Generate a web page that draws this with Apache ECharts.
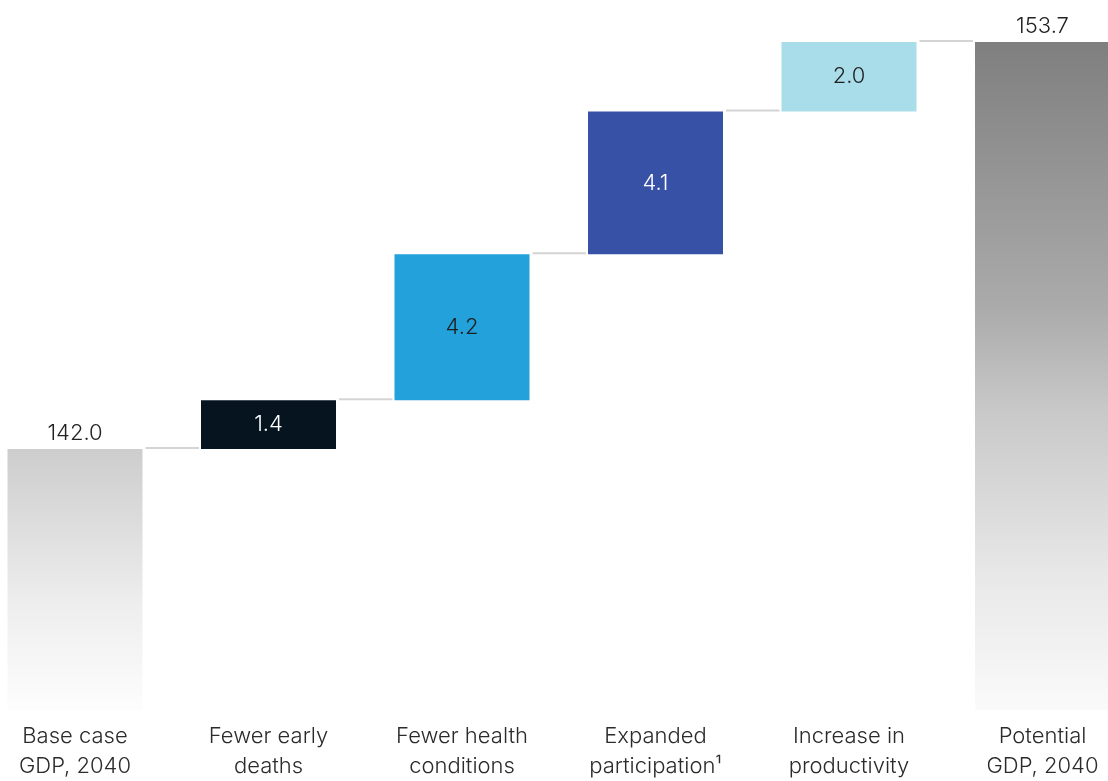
<!DOCTYPE html>
<html>
<head>
<meta charset="utf-8">
<style>
  html, body { margin: 0; padding: 0; background: #ffffff; }
  #chart { width: 1108px; height: 781px; }
</style>
<script src="https://cdn.jsdelivr.net/npm/echarts@6/dist/echarts.min.js"></script>
</head>
<body>
<div id="chart"></div>
<script>
// GDP bridge, 2040 ($ trillion): base case, four drivers, potential
const categories = [
  'Base case\nGDP, 2040',
  'Fewer early\ndeaths',
  'Fewer health\nconditions',
  'Expanded\nparticipation\u00b9',
  'Increase in\nproductivity',
  'Potential\nGDP, 2040'
];
const baseTotal = 142.0;
const steps = [1.4, 4.2, 4.1, 2.0];
const potentialTotal = 153.7;

const stepColors = ['#06141f', '#22a1da', '#3751a6', '#a9dde9'];
const stepLabelColors = ['#ffffff', '#1f1f1f', '#ffffff', '#1f1f1f'];

const FONT = 'Inter, "Liberation Sans", sans-serif';
const WEIGHT = 300;
const SIZE = 22;

// running level before each category (invisible offset of floating bars)
const levels = [baseTotal];
steps.forEach((s, i) => levels.push(+(levels[i] + s).toFixed(1)));

const offsetData = categories.map((c, i) =>
  (i === 0 || i === categories.length - 1) ? '-' : levels[i - 1]);

const floatData = categories.map((c, i) => {
  if (i === 0 || i === categories.length - 1) return '-';
  const k = i - 1;
  return {
    value: steps[k],
    itemStyle: { color: stepColors[k] },
    label: { color: stepLabelColors[k] }
  };
});

const totalData = categories.map((c, i) => {
  if (i === 0) {
    return {
      value: baseTotal,
      itemStyle: {
        color: new echarts.graphic.LinearGradient(0, 0, 0, 1, [
          { offset: 0, color: '#cccdcc' },
          { offset: 0.6, color: '#eeeeee' },
          { offset: 1, color: '#fdfdfd' }
        ])
      }
    };
  }
  if (i === categories.length - 1) {
    return {
      value: potentialTotal,
      itemStyle: {
        color: new echarts.graphic.LinearGradient(0, 0, 0, 1, [
          { offset: 0, color: '#7f7f7f' },
          { offset: 0.4, color: '#ababab' },
          { offset: 0.55, color: '#c8c8c8' },
          { offset: 0.8, color: '#e8e8e8' },
          { offset: 1, color: '#fafafa' }
        ])
      }
    };
  }
  return '-';
});

// connector lines: from each bar's right edge to the next bar's left edge
const connectorData = [];
for (let i = 0; i < categories.length - 1; i++) {
  connectorData.push([i, i === categories.length - 2 ? potentialTotal : levels[i]]);
}

const BAR_W = 135;

const chart = echarts.init(document.getElementById('chart'), null, { renderer: 'canvas' });
chart.setOption({
  animation: false,
  backgroundColor: '#ffffff',
  grid: {
    left: -21.75, top: 31.6, width: 1161, height: 678.4,
    containLabel: false,
    outerBoundsMode: 'none'
  },
  xAxis: {
    type: 'category',
    data: categories,
    axisLine: { show: false },
    axisTick: { show: false },
    axisLabel: {
      interval: 0,
      margin: 11,
      color: '#2b2b2b',
      fontFamily: FONT,
      fontWeight: WEIGHT,
      fontSize: SIZE,
      lineHeight: 30
    }
  },
  yAxis: {
    type: 'value',
    min: 134.5,
    max: 154,
    show: false,
    splitLine: { show: false }
  },
  series: [
    {
      type: 'bar',
      stack: 'w',
      barWidth: BAR_W,
      silent: true,
      itemStyle: { color: 'rgba(0,0,0,0)' },
      data: offsetData
    },
    {
      type: 'bar',
      stack: 'w',
      barWidth: BAR_W,
      label: {
        show: true,
        position: 'inside',
        fontFamily: FONT,
        fontWeight: WEIGHT,
        fontSize: SIZE,
        formatter: p => p.value.toFixed(1)
      },
      data: floatData
    },
    {
      type: 'bar',
      stack: 'w',
      barWidth: BAR_W,
      label: {
        show: true,
        position: 'top',
        distance: 5,
        color: '#222222',
        fontFamily: FONT,
        fontWeight: WEIGHT,
        fontSize: SIZE,
        formatter: p => p.value.toFixed(1)
      },
      data: totalData
    },
    {
      type: 'custom',
      silent: true,
      z: 1,
      renderItem: function (params, api) {
        const i = api.value(0);
        const y = api.value(1);
        const a = api.coord([i, y]);
        const b = api.coord([i + 1, y]);
        return {
          type: 'line',
          shape: { x1: a[0] + BAR_W / 2 + 3, y1: a[1] - 1, x2: b[0] - BAR_W / 2 - 2, y2: b[1] - 1 },
          style: { stroke: '#d4d4d4', lineWidth: 2 }
        };
      },
      data: connectorData
    }
  ]
});
</script>
</body>
</html>
